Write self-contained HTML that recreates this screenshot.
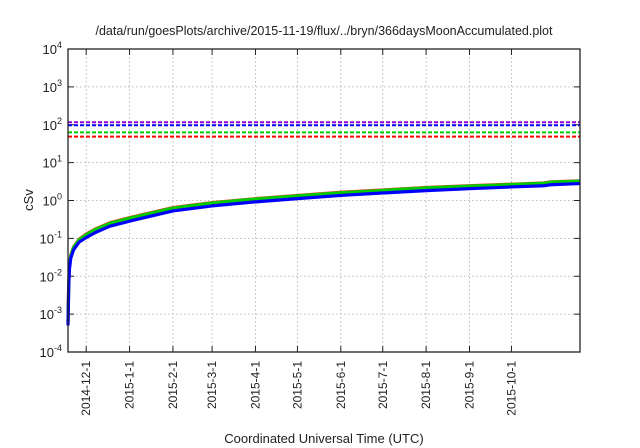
<!DOCTYPE html>
<html><head><meta charset="utf-8"><style>
body{margin:0;background:#fff;}
svg{display:block;font-family:"Liberation Sans",sans-serif;}
</style></head><body>
<svg id="chart" width="640" height="448">
<text x="324" y="35" text-anchor="middle" font-size="12.5" fill="#222">/data/run/goesPlots/archive/2015-11-19/flux/../bryn/366daysMoonAccumulated.plot</text>
<text transform="translate(33,200) rotate(-90)" text-anchor="middle" font-size="13" fill="#222">cSv</text>
<text x="324" y="443" text-anchor="middle" font-size="13" fill="#222">Coordinated Universal Time (UTC)</text>
<g id="grid"></g><g id="axes"></g><g id="series"></g>
<rect x="68" y="49" width="512" height="303" fill="none" stroke="#222" stroke-width="1.3"/>
</svg>
<script>
const yExps=[-4,-3,-2,-1,0,1,2,3,4];
const xTickLabels=["2014-12-1","2015-1-1","2015-2-1","2015-3-1","2015-4-1","2015-5-1","2015-6-1","2015-7-1","2015-8-1","2015-9-1","2015-10-1"];
const xTickDays=[13,44,75,103,134,164,195,225,256,287,317];
const thresholdNames=["purple","blue","green","red"];
const thresholdValues=[116,97,63,48.6];
const thresholdColors=["#9400d3","#0000ff","#00cc00","#ff0000"];
const days=[0,0.5,1,2,4,8,13,20,30,45,75,103,134,164,195,225,256,287,317,340,345,366];
const redVals=[6e-4,6e-3,1.8e-2,3.6e-2,6e-2,9.5e-2,0.13,0.18,0.26,0.36,0.65,0.88,1.12,1.36,1.65,1.9,2.2,2.45,2.7,2.9,3.1,3.3];
const greenVals=[6e-4,6e-3,1.8e-2,3.5e-2,5.8e-2,9.2e-2,0.125,0.175,0.25,0.35,0.63,0.86,1.1,1.33,1.6,1.85,2.15,2.4,2.65,2.85,3.05,3.25];
const blueVals=[5e-4,5e-3,1.5e-2,3e-2,5e-2,8e-2,0.105,0.145,0.21,0.29,0.53,0.72,0.92,1.12,1.36,1.58,1.82,2.05,2.28,2.45,2.6,2.8];
const X0=68,X1=580,Y0=352,Y1=49,D=366;
const xs=d=>X0+(X1-X0)*d/D;
const ys=v=>Y0-(Math.log10(v)+4)/8*(Y0-Y1);
const NS="http://www.w3.org/2000/svg";
function mk(t,a,p){const e=document.createElementNS(NS,t);for(const k in a)e.setAttribute(k,a[k]);p.appendChild(e);return e;}
const grid=document.getElementById('grid'),axes=document.getElementById('axes'),ser=document.getElementById('series');
yExps.forEach(ex=>{const y=ys(Math.pow(10,ex));
 if(ex>-4&&ex<4){const g=mk('line',{x1:X0,x2:X1,y1:y,y2:y,stroke:'#aaa','stroke-width':0.8,'stroke-dasharray':'1.5,2.5'},grid);
 }
 mk('line',{x1:X0,x2:X0+6,y1:y,y2:y,stroke:'#222'},axes);mk('line',{x1:X1-6,x2:X1,y1:y,y2:y,stroke:'#222'},axes);
 const t=mk('text',{x:X0-6,y:y+5,'text-anchor':'end','font-size':13,fill:'#222'},axes);
 
 t.appendChild(document.createTextNode('10'));const s=mk('tspan',{dy:-6,'font-size':9},t);s.textContent=ex;
});
xTickDays.forEach((d,i)=>{const x=xs(d);
 const g=mk('line',{x1:x,x2:x,y1:Y1,y2:Y0,stroke:'#aaa','stroke-width':0.8,'stroke-dasharray':'1.5,2.5'},grid);
 
 mk('line',{x1:x,x2:x,y1:Y0,y2:Y0-6,stroke:'#222'},axes);mk('line',{x1:x,x2:x,y1:Y1,y2:Y1+6,stroke:'#222'},axes);
 const t=mk('text',{transform:`translate(${x+4},${Y0+9}) rotate(-90)`,'text-anchor':'end','font-size':12,fill:'#222'},axes);
 t.textContent=xTickLabels[i];
});
thresholdValues.forEach((v,i)=>{const y=ys(v);
 const l=mk('line',{x1:X0,x2:X1,y1:y,y2:y,stroke:thresholdColors[i],'stroke-width':2,'stroke-dasharray':'4,2'},ser);
 });
[[redVals,'#ff3030','red'],[greenVals,'#00cc00','green'],[blueVals,'#0000ff','blue']].forEach(([vals,c,n])=>{
 const p=mk('polyline',{points:days.map((d,i)=>xs(d)+','+ys(vals[i])).join(' '),fill:'none',stroke:c,'stroke-width':3.2,'stroke-linejoin':'round'},ser);
 });
</script>
</body></html>
